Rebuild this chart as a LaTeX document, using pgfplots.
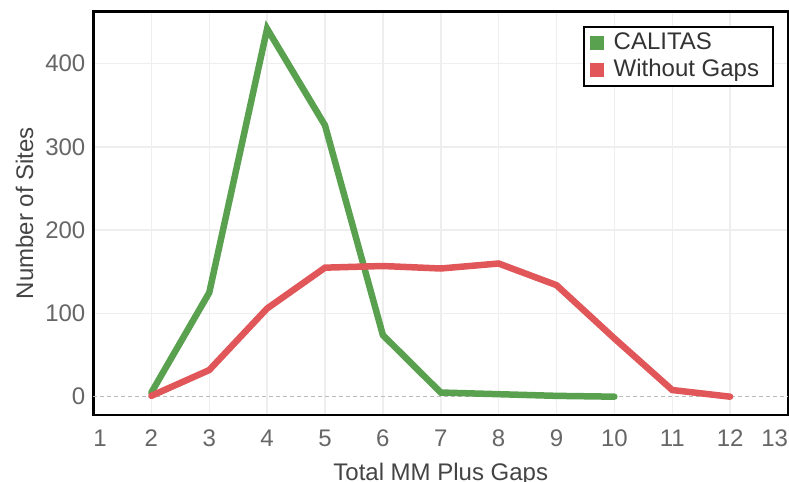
\documentclass[border=0pt]{standalone}
\usepackage{fontspec}
\setmainfont{Liberation Sans}
\usepackage{pgfplots}
\pgfplotsset{compat=1.18}
\definecolor{cgreen}{HTML}{59A14F}
\definecolor{cred}{HTML}{E15759}
\definecolor{tickgray}{HTML}{666666}
\definecolor{titlegray}{HTML}{444444}
\definecolor{gridgray}{HTML}{EEEEEE}
\definecolor{zerogray}{HTML}{BBBBBB}
\newcommand\bigfont{\fontsize{24bp}{28bp}\selectfont}
\begin{document}
\begin{tikzpicture}
\begin{axis}[name=ax, scale only axis, width=694.5bp, height=403.7bp,
  xmin=1, xmax=13, ymin=-22, ymax=463,
  xtick={1,...,13},
  xticklabels={\makebox[0pt][l]{1},2,3,4,5,6,7,8,9,10,11,12,\makebox[0pt][r]{13}},
  ytick={100,200,300,400},
  extra y ticks={0},
  extra y tick style={ymajorgrids=true, major grid style={zerogray, line width=1.2bp, dash pattern=on 4bp off 3bp}},
  major tick length=0pt,
  xmajorgrids=true, ymajorgrids=true,
  grid style={gridgray, line width=1.5bp},
  axis line style={black, line width=2.8bp},
  /pgf/number format/assume math mode=true,
  tick label style={font=\bigfont, text=tickgray, inner sep=0pt},
  xticklabel style={anchor=north, yshift=-15bp},
  yticklabel style={anchor=east, xshift=-8bp},
  xlabel={Total MM Plus Gaps}, ylabel={Number of Sites},
  label style={font=\bigfont, text=titlegray, inner sep=0pt},
  xlabel style={at={(axis description cs:0.5,-0.1189)}, anchor=north},
  ylabel style={at={(axis description cs:-0.0864,0.5)}, anchor=south},
  legend style={at={(rel axis cs:1,1)}, anchor=north east, xshift=-14bp, yshift=-15bp,
    draw=black, line width=1.8bp, font=\bigfont, text=black!80,
    inner xsep=6bp, inner ysep=5bp, /tikz/row sep=5bp, /tikz/column sep=2bp,
    nodes={inner ysep=0pt, inner xsep=8bp, text height=17bp, text depth=5bp}},
  legend cell align=left,
  legend image code/.code={\fill[#1, draw=none] (0bp,-7bp) rectangle (14bp,7bp);},
]
\addplot[cgreen, line width=6.5bp, line cap=round] coordinates {
  (2,5) (3,125) (4,442) (5,326) (6,74) (7,5) (8,3) (9,1) (10,0)};
\addlegendentry{CALITAS}
\addplot[cred, line width=6.5bp, line cap=round] coordinates {
  (2,1) (3,32) (4,106) (5,155) (6,157) (7,154) (8,160) (9,134) (10,70) (11,8) (12,0)};
\addlegendentry{Without Gaps}
\end{axis}
\pgfresetboundingbox
\path ([shift={(-93.5bp,-67bp)}]ax.south west) rectangle ([shift={(1bp,11.3bp)}]ax.north east);
\end{tikzpicture}
\end{document}
